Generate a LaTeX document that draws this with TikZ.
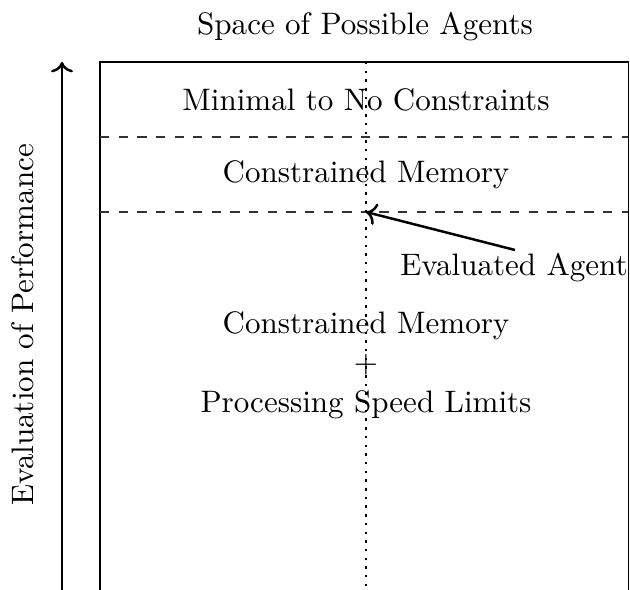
\documentclass[tikz,border=0pt]{standalone}
\usetikzlibrary{arrows.meta}
\begin{document}
\begin{tikzpicture}[x=0.322pt,y=-0.322pt,
  lbl/.style={inner sep=0pt,font=\normalsize},
  frame/.style={draw,line width=0.4pt},
  divider/.style={draw,dashed,line width=0.4pt,black!80},
  axisarrow/.style={draw,->,line width=0.8pt},
  pointer/.style={draw,->,line width=0.8pt}]
  \useasboundingbox (0,0) rectangle (630,590);
  % frame corners
  \coordinate (bl) at (100,592);
  \coordinate (tl) at (100,62);
  \coordinate (tr) at (628.5,62);
  \coordinate (br) at (628.5,592);
  \draw[frame] (bl) -- (tl) -- (tr) -- (br);
  % tier boundaries
  \coordinate (d1l) at (100,137);  \coordinate (d1r) at (628.5,137);
  \coordinate (d2l) at (100,212);  \coordinate (d2r) at (628.5,212);
  \draw[divider] (d1l) -- (d1r);
  \draw[divider] (d2l) -- (d2r);
  % agent position
  \coordinate (vt) at (366,62);
  \coordinate (vb) at (366,592);
  \draw[dotted,line width=0.8pt] (vt) -- (vb);
  % performance axis
  \coordinate (ab) at (62,592);
  \coordinate (at) at (62,62);
  \draw[axisarrow] (ab) -- (at);
  % labels
  \node[lbl] (title) at (365,27) {Space of Possible Agents};
  \node[lbl] (t1) at (366,100) {Minimal to No Constraints};
  \node[lbl] (t2) at (366,175) {Constrained Memory};
  \node[lbl,align=center] (t3) at (366,365) {Constrained Memory\\[0.7pt]+\\[0.7pt]Processing Speed Limits};
  \node[lbl] (ev) at (514,268) {Evaluated Agent};
  \node[lbl,rotate=90] (perf) at (23,325) {Evaluation of Performance};
  % pointer to the evaluated agent
  \coordinate (ptail) at (515,250);
  \coordinate (hit) at (366,212);
  \draw[pointer] (ptail) -- (hit);
\end{tikzpicture}
\end{document}
